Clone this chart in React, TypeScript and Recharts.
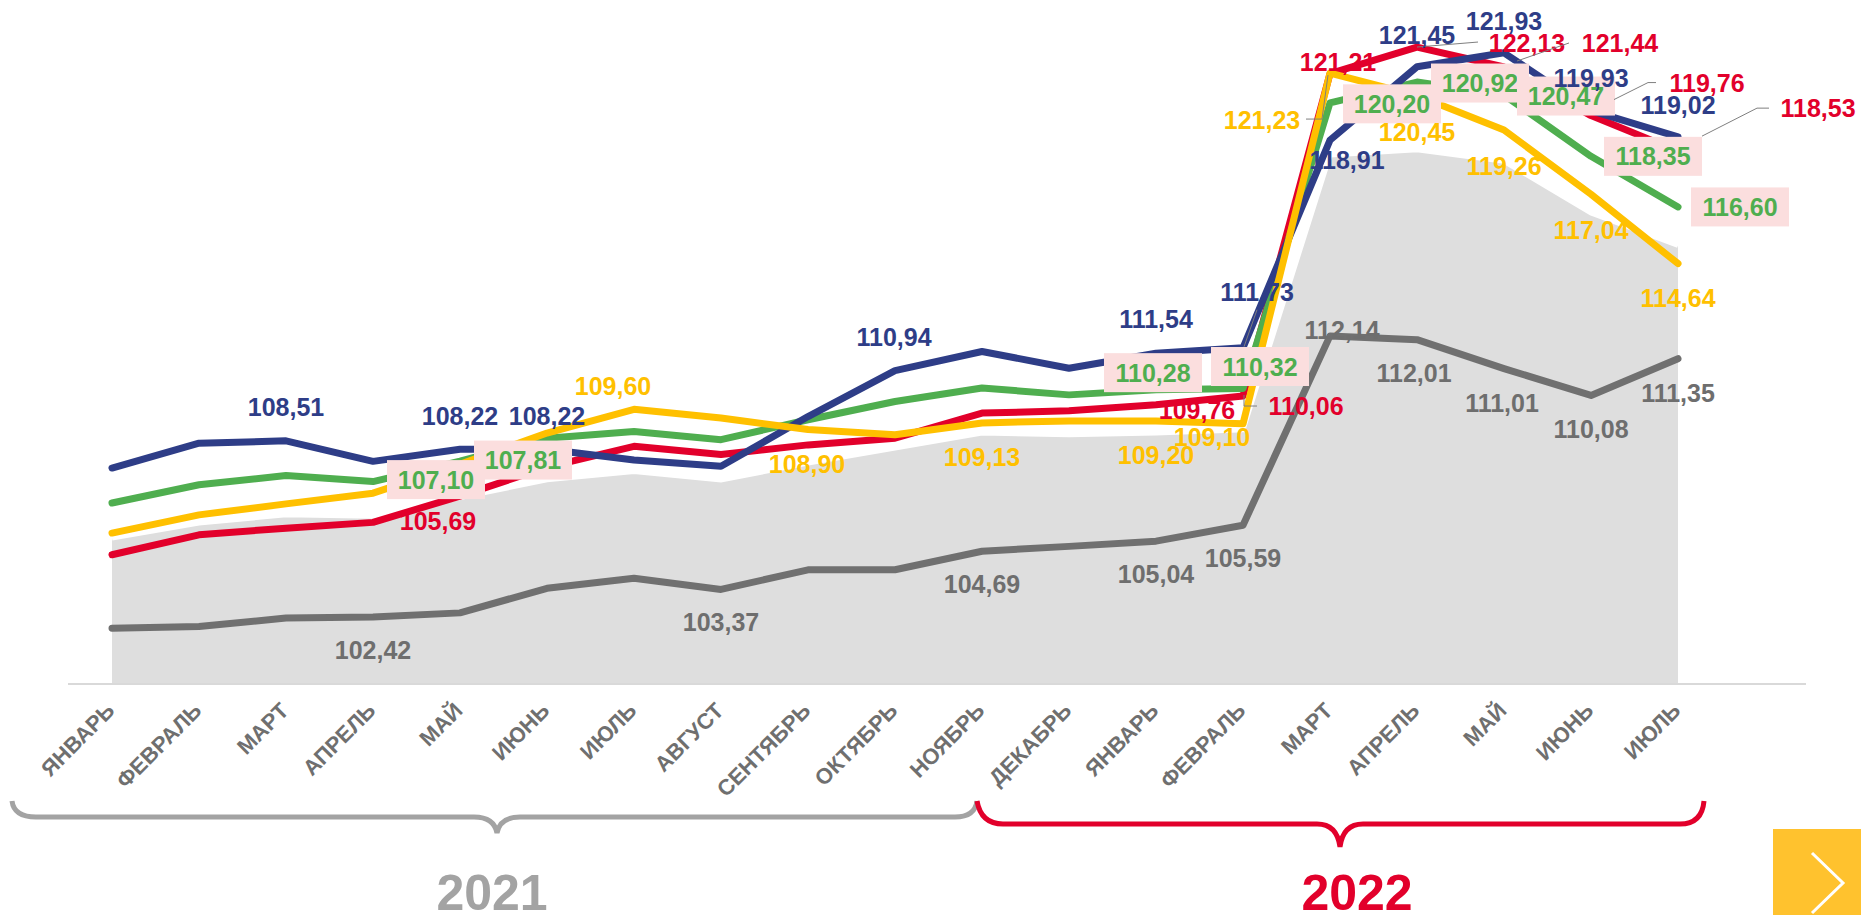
import { ComposedChart, Area, Line, XAxis, YAxis, LabelList } from "recharts"

// months Jan 2021 .. Jul 2022
const months = [
  "ЯНВАРЬ", "ФЕВРАЛЬ", "МАРТ", "АПРЕЛЬ", "МАЙ", "ИЮНЬ", "ИЮЛЬ", "АВГУСТ", "СЕНТЯБРЬ", "ОКТЯБРЬ", "НОЯБРЬ", "ДЕКАБРЬ",
  "ЯНВАРЬ", "ФЕВРАЛЬ", "МАРТ", "АПРЕЛЬ", "МАЙ", "ИЮНЬ", "ИЮЛЬ",
]
const years = ["2021", "2022"]

const areaValues = [105.15, 105.67, 105.95, 105.9, 106.55, 107.16, 107.45, 107.16, 107.74, 108.26, 108.78, 108.72, 108.78, 108.89, 118.4, 118.58, 118.18, 116.39, 115.27]
const blueValues = [107.57, 108.43, 108.51, 107.8, 108.22, 108.22, 107.85, 107.63, 109.35, 110.94, 111.6, 111.02, 111.54, 111.73, 118.91, 121.45, 121.93, 119.93, 119.02]
const greenValues = [106.36, 106.99, 107.31, 107.1, 107.81, 108.6, 108.83, 108.55, 109.24, 109.87, 110.34, 110.1, 110.28, 110.32, 120.2, 120.92, 120.47, 118.35, 116.6]
const yellowValues = [105.32, 105.95, 106.33, 106.7, 107.7, 108.78, 109.6, 109.3, 108.9, 108.72, 109.13, 109.2, 109.2, 109.1, 121.23, 120.45, 119.26, 117.04, 114.64]
const redValues = [104.57, 105.26, 105.49, 105.69, 106.6, 107.6, 108.32, 108.04, 108.37, 108.6, 109.47, 109.55, 109.76, 110.06, 121.21, 122.13, 121.44, 119.76, 118.53]
const grayValues = [102.03, 102.09, 102.38, 102.42, 102.56, 103.41, 103.76, 103.37, 104.05, 104.05, 104.69, 104.86, 105.04, 105.59, 112.14, 112.01, 111.01, 110.08, 111.35]

const data = months.map((m, i) => ({
  period: `${i < 12 ? years[0] : years[1]}-${i}`,
  area: areaValues[i],
  blue: blueValues[i],
  green: greenValues[i],
  yellow: yellowValues[i],
  red: redValues[i],
  gray: grayValues[i],
}))

const BLUE = "#2E3D87"
const GREEN = "#4FAE4F"
const YELLOW = "#FFC000"
const RED = "#E2002B"
const GRAY = "#707070"
const FONT = "'Liberation Sans', Arial, sans-serif"

type Spec = { dx: number; dy: number; leader?: number[][] }

// which points get a label and where it sits relative to the point
const blueLabels: Record<number, Spec> = {
  2: { dx: 0, dy: -34 }, 4: { dx: 0, dy: -33 }, 5: { dx: 0, dy: -33 }, 9: { dx: -1, dy: -34 },
  12: { dx: 0, dy: -34 }, 13: { dx: 14, dy: -56, leader: [[1, -1], [14, -38]] },
  14: { dx: 17, dy: 20 }, 15: { dx: 0, dy: -32 }, 16: { dx: 0, dy: -32 }, 17: { dx: 0, dy: -33 }, 18: { dx: 0, dy: -32 },
}
const greenLabels: Record<number, Spec> = {
  3: { dx: 63, dy: -2 }, 4: { dx: 63, dy: -1 }, 12: { dx: -3, dy: -17 }, 13: { dx: 17, dy: -22 },
  14: { dx: 62, dy: 1 }, 15: { dx: 63, dy: 1 }, 16: { dx: 62, dy: 1 }, 17: { dx: 62, dy: 0 }, 18: { dx: 62, dy: 0 },
}
const redLabels: Record<number, Spec> = {
  3: { dx: 65, dy: -1 }, 12: { dx: 41, dy: 5 },
  13: { dx: 63, dy: 10, leader: [[1, -1], [1, 10], [14, 10]] },
  14: { dx: 8, dy: -12 },
  15: { dx: 110, dy: -4, leader: [[0, 0], [61, -5]] },
  16: { dx: 116, dy: -24, leader: [[13, -6], [65, -24]] },
  17: { dx: 116, dy: -33, leader: [[23, -16], [57, -33], [65, -33]] },
  18: { dx: 140, dy: -43, leader: [[24, -15], [79, -43], [91, -43]] },
}
const yellowLabels: Record<number, Spec> = {
  6: { dx: -21, dy: -23 }, 8: { dx: -1, dy: 34 }, 10: { dx: 0, dy: 34 }, 12: { dx: 0, dy: 34 }, 13: { dx: -31, dy: 13 },
  14: { dx: -68, dy: 47, leader: [[-24, 46], [-8, 46], [-2, 2]] },
  15: { dx: 0, dy: 36 }, 16: { dx: 0, dy: 36 }, 17: { dx: 0, dy: 36 }, 18: { dx: 0, dy: 34 },
}
const grayLabels: Record<number, Spec> = {
  3: { dx: 0, dy: 33 }, 7: { dx: 0, dy: 33 }, 10: { dx: 0, dy: 33 }, 12: { dx: 0, dy: 33 }, 13: { dx: 0, dy: 33 },
  14: { dx: 12, dy: -6 }, 15: { dx: -3, dy: 33 }, 16: { dx: -2, dy: 34 }, 17: { dx: 0, dy: 34 }, 18: { dx: 0, dy: 34 },
}

function makeLabel(color: string, specs: Record<number, Spec>, boxed = false) {
  return (props: any) => {
    const spec = specs[props.index]
    if (!spec) return null
    const px = props.x ?? props.viewBox?.x
    const py = props.y ?? props.viewBox?.y
    const cx = px + spec.dx
    const cy = py + spec.dy
    const text = Number(props.value).toFixed(2).replace(".", ",")
    return (
      <g>
        {spec.leader && (
          <polyline
            points={spec.leader.map(([a, b]) => `${px + a},${py + b}`).join(" ")}
            fill="none"
            stroke="#7F7F7F"
            strokeWidth={1}
          />
        )}
        {boxed && <rect x={cx - 49} y={cy - 19.5} width={98} height={39} fill="#FBDEDE" />}
        <text
          x={cx}
          y={cy}
          textAnchor="middle"
          dominantBaseline="central"
          fill={color}
          fontSize={25}
          fontWeight="bold"
          fontFamily={FONT}
        >
          {text}
        </text>
      </g>
    )
  }
}

const MonthTick = (props: any) => {
  const { x, y, payload } = props
  const tx = x + 4
  const ty = y + 20
  return (
    <text
      x={tx}
      y={ty}
      transform={`rotate(-45 ${tx} ${ty})`}
      textAnchor="end"
      fill="#6F6F6F"
      fontSize={22}
      fontWeight="bold"
      fontFamily={FONT}
    >
      {months[payload.index]}
    </text>
  )
}

function labelLayer(key: string, color: string, specs: Record<number, Spec>, boxed = false) {
  return (
    <Line
      key={`lbl-${key}`}
      type="linear"
      dataKey={key}
      stroke="none"
      dot={false}
      activeDot={false}
      isAnimationActive={false}
    >
      <LabelList dataKey={key} content={makeLabel(color, specs, boxed)} />
    </Line>
  )
}

export default function App() {
  return (
    <div style={{ position: "absolute", left: 0, top: 0, width: 1861, height: 915, background: "#fff" }}>
      <ComposedChart width={1861} height={915} data={data} margin={{ top: 19, right: 55, left: 68, bottom: 171 }}>
        <XAxis
          dataKey="period"
          interval={0}
          tickLine={false}
          axisLine={{ stroke: "#D9D9D9", strokeWidth: 2 }}
          padding={{ left: 44, right: 128 }}
          height={60}
          tick={MonthTick}
        />
        <YAxis hide domain={[100.1, 123.1]} />
        <Area
          type="linear"
          dataKey="area"
          fill="#DEDEDE"
          fillOpacity={1}
          stroke="#FFFFFF"
          strokeWidth={5}
          dot={false}
          activeDot={false}
          isAnimationActive={false}
        />
        <Line type="linear" dataKey="red" stroke={RED} strokeWidth={7} strokeLinecap="round" strokeLinejoin="round" dot={false} activeDot={false} isAnimationActive={false} />
        <Line type="linear" dataKey="green" stroke={GREEN} strokeWidth={7} strokeLinecap="round" strokeLinejoin="round" dot={false} activeDot={false} isAnimationActive={false} />
        <Line type="linear" dataKey="blue" stroke={BLUE} strokeWidth={7} strokeLinecap="round" strokeLinejoin="round" dot={false} activeDot={false} isAnimationActive={false} />
        <Line type="linear" dataKey="yellow" stroke={YELLOW} strokeWidth={7} strokeLinecap="round" strokeLinejoin="round" dot={false} activeDot={false} isAnimationActive={false} />
        {labelLayer("green", GREEN, greenLabels, true)}
        {labelLayer("gray", "#6E6E6E", grayLabels)}
        {labelLayer("yellow", YELLOW, yellowLabels)}
        {labelLayer("red", RED, redLabels)}
        {labelLayer("blue", BLUE, blueLabels)}
        <Line type="linear" dataKey="gray" stroke={GRAY} strokeWidth={7} strokeLinecap="round" strokeLinejoin="round" dot={false} activeDot={false} isAnimationActive={false} />
      </ComposedChart>

      <svg width={1861} height={915} style={{ position: "absolute", left: 0, top: 0, pointerEvents: "none" }}>
        <path
          d="M 12 801 Q 14 817 36 817 L 474 817 Q 494 817 497 833 Q 500 817 520 817 L 955 817 Q 975 817 977 801"
          fill="none"
          stroke="#A3A3A3"
          strokeWidth={5}
        />
        <path
          d="M 977 801 Q 981 824 1003 824 L 1317 824 Q 1337 824 1340 847 Q 1343 824 1363 824 L 1680 824 Q 1702 824 1704 801"
          fill="none"
          stroke={RED}
          strokeWidth={5}
        />
        <text x={492} y={910} textAnchor="middle" fill="#A3A3A3" fontSize={50} fontWeight="bold" fontFamily={FONT}>
          {years[0]}
        </text>
        <text x={1357} y={910} textAnchor="middle" fill={RED} fontSize={50} fontWeight="bold" fontFamily={FONT}>
          {years[1]}
        </text>
        <rect x={1773} y={829} width={88} height={86} fill="#FFC22E" />
        <polyline points="1812,853 1843,883 1812,913" fill="none" stroke="#FFFFFF" strokeWidth={3} />
      </svg>
    </div>
  )
}
